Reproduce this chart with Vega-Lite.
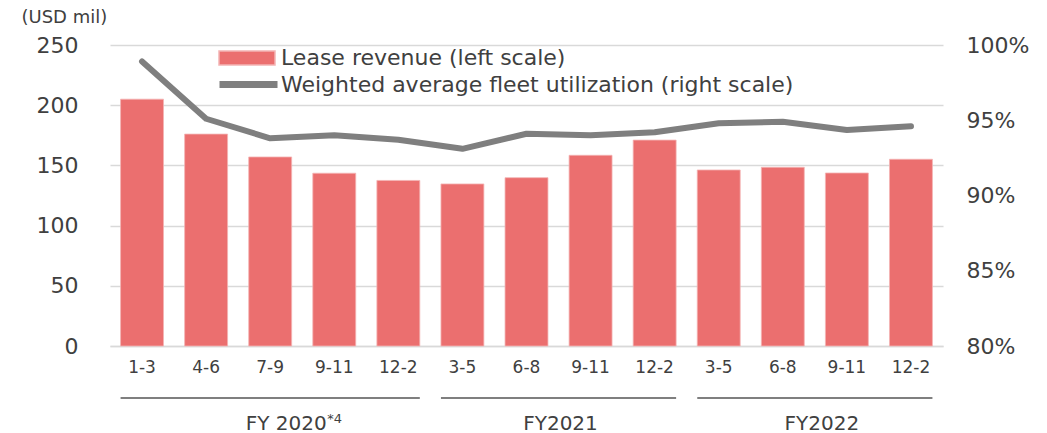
{
  "$schema": "https://vega.github.io/schema/vega-lite/v6.json",
  "padding": {"left": 21, "top": 8, "right": 5, "bottom": 0},
  "config": {
    "font": "DejaVu Sans",
    "view": {"stroke": null},
    "axis": {"labelColor": "#404040", "titleColor": "#404040"}
  },
  "spacing": 22,
  "datasets": {
    "quarters": [
      {"key": "FY20 1-3", "revenue": 205, "utilization": 0.989},
      {"key": "FY20 4-6", "revenue": 176, "utilization": 0.951},
      {"key": "FY20 7-9", "revenue": 157, "utilization": 0.938},
      {"key": "FY20 9-11", "revenue": 143.5, "utilization": 0.940},
      {"key": "FY20 12-2", "revenue": 137.5, "utilization": 0.937},
      {"key": "FY21 3-5", "revenue": 134.6, "utilization": 0.931},
      {"key": "FY21 6-8", "revenue": 139.8, "utilization": 0.941},
      {"key": "FY21 9-11", "revenue": 158.4, "utilization": 0.940},
      {"key": "FY21 12-2", "revenue": 171, "utilization": 0.942},
      {"key": "FY22 3-5", "revenue": 146.2, "utilization": 0.948},
      {"key": "FY22 6-8", "revenue": 148.4, "utilization": 0.949},
      {"key": "FY22 9-11", "revenue": 143.7, "utilization": 0.9435},
      {"key": "FY22 12-2", "revenue": 155.1, "utilization": 0.946}
    ],
    "groups": [
      {"fy": "FY 2020", "note": "*4", "start": "FY20 1-3", "end": "FY20 12-2", "anchor": "FY20 7-9"},
      {"fy": "FY2021", "note": "", "start": "FY21 3-5", "end": "FY21 12-2", "anchor": "FY21 6-8"},
      {"fy": "FY2022", "note": "", "start": "FY22 3-5", "end": "FY22 12-2", "anchor": "FY22 6-8"}
    ]
  },
  "vconcat": [
    {
      "width": 833,
      "height": 301,
      "data": {"name": "quarters"},
      "encoding": {
        "x": {
          "field": "key",
          "type": "nominal",
          "sort": null,
          "scale": {
            "domain": ["FY20 1-3", "FY20 4-6", "FY20 7-9", "FY20 9-11", "FY20 12-2", "FY21 3-5", "FY21 6-8", "FY21 9-11", "FY21 12-2", "FY22 3-5", "FY22 6-8", "FY22 9-11", "FY22 12-2"],
            "paddingInner": 0.33,
            "paddingOuter": 0.165
          },
          "axis": {
            "title": null,
            "labelExpr": "split(datum.value, ' ')[1]",
            "labelAngle": 0,
            "ticks": false,
            "domainColor": "#d9d9d9",
            "domainWidth": 1.5,
            "labelFontSize": 17,
            "labelPadding": 13
          }
        }
      },
      "layer": [
        {
          "mark": {"type": "bar", "stroke": "#f4b4b4", "strokeWidth": 0.8},
          "encoding": {
            "y": {
              "field": "revenue",
              "type": "quantitative",
              "scale": {"domain": [0, 250], "nice": false},
              "axis": {
                "values": [0, 50, 100, 150, 200, 250],
                "grid": true,
                "gridColor": "#d9d9d9",
                "gridWidth": 1.5,
                "domain": false,
                "ticks": false,
                "labelFontSize": 22,
                "labelPadding": 32,
                "title": "(USD mil)",
                "titleAngle": 0,
                "titleAlign": "left",
                "titleBaseline": "middle",
                "titleX": -89,
                "titleY": -28,
                "titleFontSize": 18,
                "titleFontWeight": "normal"
              }
            },
            "fill": {
              "datum": "Lease revenue (left scale)",
              "scale": {"range": ["#EB6F6F"]},
              "legend": {
                "orient": "none",
                "legendX": 108,
                "legendY": -16,
                "title": null,
                "symbolType": "M-1,-0.25H1V0.25H-1Z",
                "symbolSize": 3136,
                "symbolOpacity": 1,
                "labelFontSize": 22,
                "labelColor": "#404040",
                "labelOffset": 5,
                "labelLimit": 0
              }
            }
          }
        },
        {
          "mark": {"type": "line", "strokeWidth": 6, "strokeCap": "round", "strokeJoin": "round"},
          "encoding": {
            "y": {
              "field": "utilization",
              "type": "quantitative",
              "scale": {"domain": [0.8, 1], "nice": false, "zero": false},
              "axis": {
                "orient": "right",
                "values": [0.8, 0.85, 0.9, 0.95, 1],
                "format": ".0%",
                "grid": false,
                "domain": false,
                "ticks": false,
                "labelFontSize": 22,
                "labelPadding": 23,
                "title": null
              }
            },
            "stroke": {
              "datum": "Weighted average fleet utilization (right scale)",
              "scale": {"range": ["#7f7f7f"]},
              "legend": {
                "orient": "none",
                "legendX": 106,
                "legendY": 7,
                "title": null,
                "symbolType": "stroke",
                "symbolSize": 3364,
                "symbolStrokeWidth": 7,
                "labelFontSize": 22,
                "labelColor": "#404040",
                "labelOffset": 0,
                "labelLimit": 0
              }
            }
          }
        }
      ],
      "resolve": {"scale": {"y": "independent"}}
    },
    {
      "width": 833,
      "height": 25,
      "data": {"name": "groups"},
      "encoding": {
        "x": {
          "field": "start",
          "type": "nominal",
          "bandPosition": 0,
          "scale": {
            "domain": ["FY20 1-3", "FY20 4-6", "FY20 7-9", "FY20 9-11", "FY20 12-2", "FY21 3-5", "FY21 6-8", "FY21 9-11", "FY21 12-2", "FY22 3-5", "FY22 6-8", "FY22 9-11", "FY22 12-2"],
            "paddingInner": 0.33,
            "paddingOuter": 0.165
          },
          "axis": null
        }
      },
      "layer": [
        {
          "mark": {"type": "rule", "stroke": "#7f7f7f", "strokeWidth": 2},
          "encoding": {
            "x2": {"field": "end", "bandPosition": 1},
            "y": {"datum": 1, "type": "quantitative", "scale": {"domain": [0, 1]}, "axis": null}
          }
        },
        {
          "transform": [{"filter": "datum.fy == 'FY 2020'"}],
          "mark": {"type": "text", "fontSize": 20, "color": "#404040", "baseline": "middle", "dx": 16, "dy": 1},
          "encoding": {
            "x": {"field": "anchor", "type": "nominal", "bandPosition": 0.5},
            "y": {"datum": 0, "type": "quantitative"},
            "text": {"field": "fy"}
          }
        },
        {
          "transform": [{"filter": "datum.fy == 'FY 2020'"}],
          "mark": {"type": "text", "fontSize": 13, "color": "#404040", "baseline": "middle", "align": "left", "dx": 57, "dy": -4},
          "encoding": {
            "x": {"field": "anchor", "type": "nominal", "bandPosition": 0.5},
            "y": {"datum": 0, "type": "quantitative"},
            "text": {"field": "note"}
          }
        },
        {
          "transform": [{"filter": "datum.fy == 'FY2021'"}],
          "mark": {"type": "text", "fontSize": 20, "color": "#404040", "baseline": "middle", "dx": 34, "dy": 1},
          "encoding": {
            "x": {"field": "anchor", "type": "nominal", "bandPosition": 0.5},
            "y": {"datum": 0, "type": "quantitative"},
            "text": {"field": "fy"}
          }
        },
        {
          "transform": [{"filter": "datum.fy == 'FY2022'"}],
          "mark": {"type": "text", "fontSize": 20, "color": "#404040", "baseline": "middle", "dx": 39, "dy": 1},
          "encoding": {
            "x": {"field": "anchor", "type": "nominal", "bandPosition": 0.5},
            "y": {"datum": 0, "type": "quantitative"},
            "text": {"field": "fy"}
          }
        }
      ]
    }
  ]
}
